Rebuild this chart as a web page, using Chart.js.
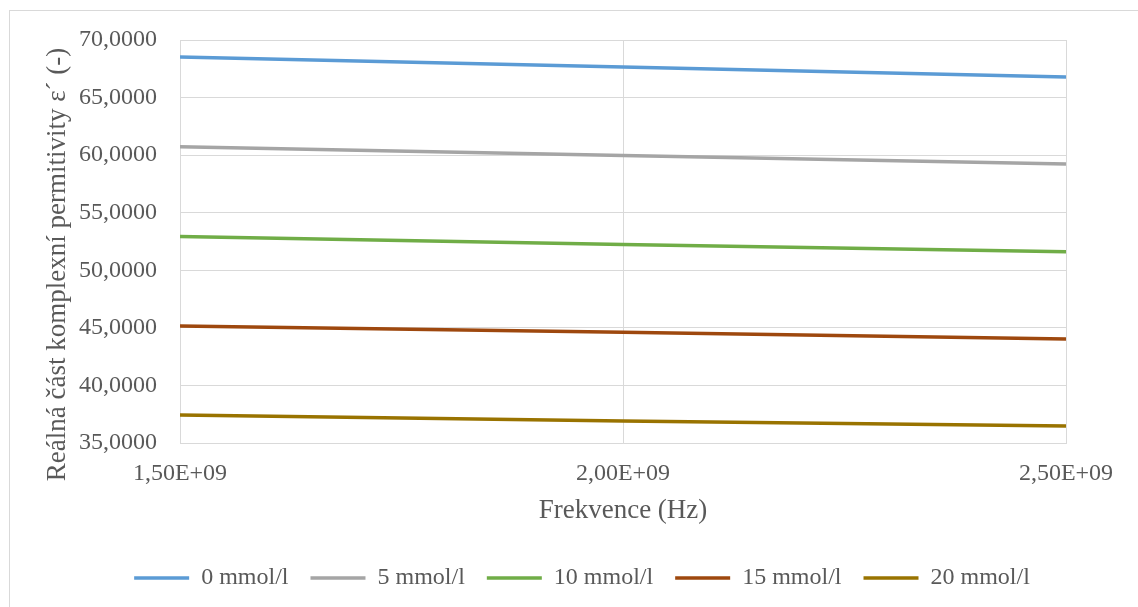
<!DOCTYPE html>
<html lang="cs">
<head>
    <meta charset="UTF-8">
    <title>Reálná část komplexní permitivity</title>
    <script src="https://cdn.jsdelivr.net/npm/chart.js"></script>
    <style>
        body {
            margin: 0;
            overflow: hidden;
            background: #ffffff;
            font-family: "Liberation Serif", "Times New Roman", serif;
        }
        .frame {
            position: absolute;
            left: 9px;
            top: 10px;
            width: 1140px;
            height: 610px;
            border: 1px solid #d9d9d9;
            box-sizing: border-box;
        }
        canvas {
            display: block;
        }
    </style>
</head>
<body>
<div class="frame">
    <canvas id="chart" width="1128" height="596"></canvas>
</div>

<script>
    // frekvence (Hz)
    const frequencies = [1.5e9, 2.0e9, 2.5e9];

    const labels = ['0 mmol/l', '5 mmol/l', '10 mmol/l', '15 mmol/l', '20 mmol/l'];
    const eps0 = [68.53, 67.66, 66.79];
    const eps5 = [60.73, 59.96, 59.24];
    const eps10 = [52.94, 52.25, 51.62];
    const eps15 = [45.16, 44.62, 44.04];
    const eps20 = [37.44, 36.92, 36.48];

    const colors = ['#5b9bd5', '#a5a5a5', '#70ad47', '#9e480e', '#997300'];
    const series = [eps0, eps5, eps10, eps15, eps20];

    const yTitle = 'Reálná část komplexní permitivity ε´ (-)';
    const xTitle = 'Frekvence (Hz)';

    const serif = '"Liberation Serif", "Times New Roman", serif';
    const textColor = '#595959';

    function fmtY(v) {
        return v.toFixed(4).replace('.', ',');
    }

    function fmtX(v) {
        // 1.5e9 -> "1,50E+09"
        const exp = Math.floor(Math.log10(v));
        const mant = (v / Math.pow(10, exp)).toFixed(2).replace('.', ',');
        return mant + 'E+' + String(exp).padStart(2, '0');
    }

    // y title is a bit lower than the plot centre in the original, so draw it by hand
    const yTitlePlugin = {
        id: 'yTitle',
        afterDraw(chart) {
            const c = chart.ctx;
            const area = chart.chartArea;
            c.save();
            c.translate(48, (area.top + area.bottom) / 2 + 23);
            c.rotate(-Math.PI / 2);
            c.font = '27px ' + serif;
            c.fillStyle = textColor;
            c.textAlign = 'center';
            c.textBaseline = 'middle';
            c.fillText(yTitle, 0, 0);
            c.restore();
        }
    };

    const datasets = series.map((vals, i) => ({
        label: labels[i],
        data: vals.map((y, j) => ({ x: frequencies[j], y: y })),
        borderColor: colors[i],
        backgroundColor: colors[i],
        borderWidth: 3.5,
        pointRadius: 0,
        pointStyle: 'line',
        fill: false,
        tension: 0
    }));

    const ctx = document.getElementById('chart').getContext('2d');
    new Chart(ctx, {
        type: 'line',
        data: { datasets: datasets },
        plugins: [yTitlePlugin],
        options: {
            responsive: false,
            animation: false,
            layout: {
                padding: { top: 29, right: 0, bottom: 7, left: 16 }
            },
            plugins: {
                legend: {
                    position: 'bottom',
                    labels: {
                        usePointStyle: true,
                        pointStyleWidth: 55,
                        boxHeight: 24,
                        padding: 22,
                        color: textColor,
                        font: { family: serif, size: 24 }
                    }
                },
                tooltip: { enabled: false }
            },
            scales: {
                x: {
                    type: 'linear',
                    min: 1.5e9,
                    max: 2.5e9,
                    ticks: {
                        stepSize: 5e8,
                        color: textColor,
                        font: { family: serif, size: 24 },
                        padding: 16,
                        maxRotation: 0,
                        callback: v => fmtX(v)
                    },
                    grid: {
                        color: '#d9d9d9',
                        lineWidth: 1,
                        drawTicks: false
                    },
                    border: { color: '#d9d9d9' },
                    title: {
                        display: true,
                        text: xTitle,
                        color: textColor,
                        font: { family: serif, size: 27 },
                        padding: { top: 0, bottom: 17 }
                    },
                    afterFit: axis => { axis.height = 101; }
                },
                y: {
                    min: 35,
                    max: 70,
                    ticks: {
                        stepSize: 5,
                        color: textColor,
                        font: { family: serif, size: 24 },
                        padding: 0,
                        callback: v => fmtY(v)
                    },
                    grid: {
                        color: '#d9d9d9',
                        lineWidth: 1,
                        drawTicks: true,
                        tickLength: 23,
                        tickColor: 'rgba(0,0,0,0)'
                    },
                    border: { color: '#d9d9d9' },
                    afterFit: axis => { axis.width = 154; }
                },
                // empty right axis, only keeps the plot clear of the right edge
                yRight: {
                    type: 'linear',
                    position: 'right',
                    grid: { display: false },
                    ticks: { display: false },
                    border: { display: false },
                    afterFit: axis => { axis.width = 72; }
                }
            }
        }
    });
</script>
</body>
</html>
